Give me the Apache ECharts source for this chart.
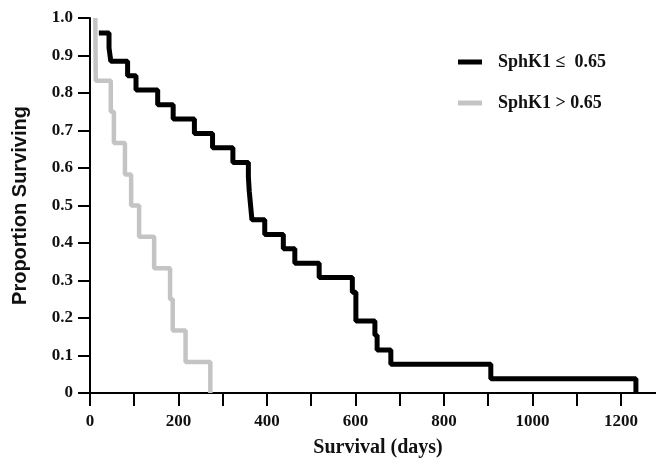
<!DOCTYPE html>
<html lang="en">
<head>
  <meta charset="UTF-8">
  <title>sphk1-survival</title>
  <script src="https://cdn.jsdelivr.net/npm/echarts@6/dist/echarts.min.js"></script>
  <style>
    html, body { margin: 0; padding: 0; background: #fff; }
    #main { width: 656px; height: 463px; }
  </style>
</head>
<body>
<div id="main"></div>
<script>
  // survival steps: [day, proportion after the drop]
  var lowName = 'SphK1 ≤  0.65';
  var highName = 'SphK1 > 0.65';
  var lowDays = [20, 43, 47, 85, 104, 153, 188, 236, 277, 323, 358, 360, 363, 366, 395, 437, 463, 518, 593, 601, 644, 649, 680, 906, 1234];
  var lowProp = [0.96, 0.92, 0.885, 0.846, 0.808, 0.769, 0.731, 0.692, 0.654, 0.615, 0.577, 0.538, 0.5, 0.462, 0.423, 0.385, 0.346, 0.308, 0.269, 0.192, 0.154, 0.115, 0.077, 0.038, 0];
  var highDays = [12, 13, 47, 54, 79, 93, 111, 145, 181, 187, 216, 272];
  var highProp = [1.0, 0.833, 0.75, 0.667, 0.583, 0.5, 0.417, 0.333, 0.25, 0.167, 0.083, 0];

  function pairs(xs, ys) {
    var out = [];
    for (var i = 0; i < xs.length; i++) out.push([xs[i], ys[i]]);
    return out;
  }

  var serif = '"Liberation Serif", "DejaVu Serif", serif';
  var myChart = echarts.init(document.getElementById('main'));
  myChart.setOption({
    backgroundColor: '#fff',
    animation: false,
    grid: { left: 90, right: -10, top: 18, bottom: 70, containLabel: false, outerBoundsMode: 'none' },
    legend: {
      orient: 'vertical',
      left: 453,
      top: 48,
      itemWidth: 24,
      itemHeight: 5,
      itemGap: 23,
      icon: 'rect',
      textStyle: { fontFamily: serif, fontWeight: 'bold', fontSize: 18, color: '#111', padding: [0, 0, 0, 11] },
      data: [lowName, highName]
    },
    xAxis: {
      type: 'value',
      min: 0,
      max: 1302,
      interval: 100,
      splitLine: { show: false },
      axisLine: { lineStyle: { color: '#000', width: 2 } },
      axisTick: { length: 13, lineStyle: { color: '#000', width: 2 } },
      axisLabel: {
        margin: 20,
        fontFamily: serif, fontWeight: 'bold', fontSize: 17, color: '#111',
        formatter: function (v) { return v % 200 === 0 ? String(v) : ''; }
      },
      name: 'Survival (days)',
      nameLocation: 'middle',
      nameGap: 45,
      nameTextStyle: { fontFamily: serif, fontWeight: 'bold', fontSize: 20, color: '#111' }
    },
    yAxis: {
      type: 'value',
      min: 0,
      max: 1,
      interval: 0.1,
      splitLine: { show: false },
      axisLine: { show: true, lineStyle: { color: '#000', width: 2 } },
      axisTick: { show: true, length: 12, lineStyle: { color: '#000', width: 2 } },
      axisLabel: {
        margin: 17,
        fontFamily: serif, fontWeight: 'bold', fontSize: 17, color: '#111',
        formatter: function (v) { return v === 0 ? '0' : v.toFixed(1); }
      },
      name: 'Proportion Surviving',
      nameLocation: 'middle',
      nameGap: 60,
      nameTextStyle: { fontFamily: '"Liberation Sans", Arial, sans-serif', fontWeight: 'bold', fontSize: 20, color: '#111' }
    },
    series: [
      {
        name: highName,
        type: 'line',
        step: 'end',
        symbol: 'none',
        color: '#c4c4c4',
        lineStyle: { width: 4.5, color: '#c4c4c4' },
        data: pairs(highDays, highProp)
      },
      {
        name: lowName,
        type: 'line',
        step: 'end',
        symbol: 'none',
        color: '#000',
        lineStyle: { width: 5, color: '#000' },
        data: pairs(lowDays, lowProp)
      }
    ]
  });
</script>
</body>
</html>
